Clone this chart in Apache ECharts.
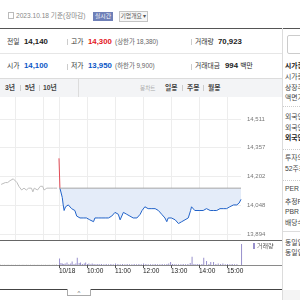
<!DOCTYPE html>
<html><head><meta charset="utf-8">
<script src="https://cdn.jsdelivr.net/npm/echarts@6/dist/echarts.min.js"></script>
<style>
html,body{margin:0;padding:0;width:300px;height:300px;overflow:hidden;background:#fff;font-family:"Liberation Sans","Noto Sans CJK KR",sans-serif;}
.t{position:absolute;white-space:nowrap;height:10px;line-height:10px;font-size:6.8px;color:#333;}
.b{font-weight:bold;font-size:7.8px;color:#222;}
.g{color:#666;font-size:6.4px;}
.ln{position:absolute;}
.r{position:absolute;left:285px;white-space:nowrap;height:10px;line-height:10px;font-size:6.8px;color:#444;}
#chart{position:absolute;left:0;top:0;width:300px;height:300px;}
</style></head>
<body>
<!-- header -->
<div class="ln" style="left:8px;top:12px;width:4px;height:5px;border:1px solid #bbb;"></div>
<div class="t" style="left:16px;top:10.5px;color:#888;font-size:6.6px;">2023.10.18 기준(장마감)</div>
<div class="t" style="left:93px;top:12px;width:20px;height:9px;line-height:9px;background:#6f80b8;color:#fff;font-size:5.8px;text-align:center;">실시간</div>
<div class="t" style="left:119px;top:11px;width:27px;height:9px;line-height:9px;border:1px solid #c4c4c4;background:#f6f6f6;color:#555;font-size:5.8px;text-align:center;">기업개요 ▾</div>
<div class="ln" style="left:0;top:28px;width:300px;height:1px;background:#555;"></div>
<!-- row 1 -->
<div class="t" style="left:7px;top:36.5px;">전일</div>
<div class="t b" style="left:24px;top:36.5px;">14,140</div>
<div class="ln" style="left:67px;top:39px;width:1px;height:6px;background:#ccc;"></div>
<div class="t" style="left:71px;top:36.5px;">고가</div>
<div class="t b" style="left:88px;top:36.5px;color:#e3151d;">14,300</div>
<div class="t g" style="left:115px;top:36.5px;">(상한가 18,380)</div>
<div class="ln" style="left:191px;top:39px;width:1px;height:6px;background:#ccc;"></div>
<div class="t" style="left:195px;top:36.5px;">거래량</div>
<div class="t b" style="left:218px;top:36.5px;">70,923</div>
<div class="ln" style="left:0;top:53px;width:282px;height:1px;background:#e6e6e6;"></div>
<!-- row 2 -->
<div class="t" style="left:7px;top:61px;">시가</div>
<div class="t b" style="left:24px;top:61px;color:#0c56c6;">14,100</div>
<div class="ln" style="left:67px;top:63.5px;width:1px;height:6px;background:#ccc;"></div>
<div class="t" style="left:71px;top:61px;">저가</div>
<div class="t b" style="left:88px;top:61px;color:#0c56c6;">13,950</div>
<div class="t g" style="left:115px;top:61px;">(하한가 9,900)</div>
<div class="ln" style="left:191px;top:63.5px;width:1px;height:6px;background:#ccc;"></div>
<div class="t" style="left:195px;top:61px;">거래대금</div>
<div class="t b" style="left:225px;top:61px;">994 <span style="font-weight:normal;font-size:6.8px;">백만</span></div>
<!-- tab bar -->
<div class="ln" style="left:0;top:78px;width:282px;height:19px;background:#f3f4f6;border-top:1px solid #dcdcdc;box-sizing:border-box;"></div>
<div class="ln" style="left:78px;top:78px;width:1px;height:19px;background:#dcdcdc;"></div>
<div class="t" style="left:5px;top:83px;font-weight:bold;color:#444;">3년</div>
<div class="ln" style="left:20px;top:85px;width:1px;height:6px;background:#ccc;"></div>
<div class="t" style="left:25px;top:83px;font-weight:bold;color:#444;">5년</div>
<div class="ln" style="left:39px;top:85px;width:1px;height:6px;background:#ccc;"></div>
<div class="t" style="left:43px;top:83px;font-weight:bold;color:#444;">10년</div>
<div class="t" style="left:140px;top:83px;color:#aaa;font-size:5.6px;">봉차트</div>
<div class="t" style="left:165px;top:83px;font-weight:bold;color:#444;">일봉</div>
<div class="ln" style="left:182px;top:85px;width:1px;height:6px;background:#ccc;"></div>
<div class="t" style="left:187px;top:83px;font-weight:bold;color:#444;">주봉</div>
<div class="ln" style="left:203px;top:85px;width:1px;height:6px;background:#ccc;"></div>
<div class="t" style="left:208px;top:83px;font-weight:bold;color:#444;">월봉</div>
<!-- chart frame lines -->
<div class="ln" style="left:0;top:240px;width:282px;height:1px;background:#666;"></div>
<div class="ln" style="left:0;top:265px;width:282px;height:1px;background:#8a8a8a;"></div>
<div class="ln" style="left:0;top:289px;width:282px;height:1px;background:#444;"></div>
<div class="t" style="left:67px;top:289px;width:22px;height:6px;line-height:8px;border:1px solid #aaa;border-top:none;background:#fff;color:#666;font-size:6px;text-align:center;">^</div>
<!-- right panel -->
<div class="ln" style="left:282px;top:28px;width:1px;height:272px;background:#dcdcdc;"></div>
<div class="ln" style="left:287px;top:35px;width:20px;height:17px;border:1px solid #ccc;border-radius:2px;"></div>
<div class="r" style="top:60.7px;font-weight:bold;color:#222;">시가총액</div>
<div class="r" style="top:71.7px;">시가총액순위</div>
<div class="r" style="top:83px;">상장주식수</div>
<div class="r" style="top:93px;">액면가</div>
<div class="ln" style="left:283px;top:106px;width:17px;border-top:1px dotted #ccc;"></div>
<div class="r" style="top:111.7px;">외국인한도주식수</div>
<div class="r" style="top:122.7px;">외국인보유주식수</div>
<div class="r" style="top:132.7px;font-weight:bold;color:#222;">외국인소진율</div>
<div class="ln" style="left:283px;top:149px;width:17px;border-top:1px dotted #ccc;"></div>
<div class="r" style="top:152.7px;">투자의견</div>
<div class="r" style="top:164px;">52주최고</div>
<div class="ln" style="left:283px;top:180px;width:17px;border-top:1px dotted #ccc;"></div>
<div class="r" style="top:184.3px;">PER</div>
<div class="r" style="top:196.7px;">추정PER</div>
<div class="r" style="top:207.3px;">PBR</div>
<div class="r" style="top:218.3px;">배당수익률</div>
<div class="ln" style="left:283px;top:231px;width:17px;border-top:1px solid #ddd;"></div>
<div class="r" style="top:237.5px;">동일업종 PER</div>
<div class="r" style="top:248px;">동일업종 등락률</div>
<div class="ln" style="left:283px;top:290px;width:17px;height:10px;background:#f4f4f4;"></div>

<div id="chart"></div>
<script>
// ---- data ----
const prevClose = 14140;
const priceTicks = [13894, 14048, 14202, 14357, 14511];
const gridTimes = [-94, -34, 0, 60, 120, 180, 240, 300, 360];
const timeTicks = [0, 60, 120, 180, 240, 300, 360];
const timeLabels = ['10/18', '10:00', '11:00', '12:00', '13:00', '14:00', '15:00'];
// minutes relative to 09:00 of 10/18 (previous session shown at negative minutes)
const prevDayPrice = [[-124,14160],[-120,14160],[-115,14170],[-110,14170],[-105,14180],[-101,14180],[-98,14190],[-94,14180],[-90,14170],[-86,14150],[-83,14140],[-80,14130],[-78,14120],[-75,14140],[-73,14150],[-70,14130],[-68,14130],[-65,14140],[-62,14150],[-59,14140],[-56,14120],[-53,14140],[-51,14150],[-49,14140],[-46,14130],[-43,14140],[-40,14150],[-37,14140],[-35,14150],[-32,14130],[-29,14140],[-26,14140],[-23,14150],[-19,14140],[-16,14150],[-12,14140],[-8,14140],[-4,14140]];
const openSpike = [[0,14300],[2,14140]];
const todayPrice = [[2,14140],[6,14130],[7,14090],[9,14050],[11,14020],[14,14040],[16,14030],[20,14050],[24,14040],[27,14030],[31,14040],[34,14020],[38,13990],[41,13980],[45,13980],[49,13970],[52,13980],[56,13970],[59,13980],[63,13980],[66,13970],[70,13970],[74,13960],[77,13980],[80,13980],[84,13980],[88,13990],[92,13980],[96,13970],[99,13980],[102,13990],[106,13980],[109,13980],[113,13990],[116,14000],[120,14010],[124,14020],[127,14000],[131,13970],[134,13980],[138,14010],[141,14010],[145,14000],[149,14000],[152,13990],[156,13990],[159,13980],[163,13990],[167,13980],[170,13990],[174,14000],[178,14020],[181,14030],[184,14040],[188,14040],[191,14030],[195,14040],[199,14030],[202,14030],[206,14030],[209,14020],[213,14020],[216,14020],[220,14000],[224,13990],[227,13980],[231,13960],[234,13980],[238,13990],[241,13980],[245,13970],[249,13970],[252,13960],[256,13950],[259,13950],[263,13960],[266,13950],[270,13970],[273,13970],[277,13980],[281,13990],[282,14020],[284,14040],[288,14030],[291,14020],[295,14020],[302,14020],[306,14020],[309,14020],[316,14030],[320,14020],[324,14020],[331,14020],[338,14020],[342,14030],[345,14030],[352,14030],[356,14030],[359,14030],[363,14040],[366,14040],[370,14050],[374,14050],[378,14050],[381,14050],[386,14060],[388,14060],[390,14080]];
const baseline = [[0,14140],[390,14140]];
const prevDayVolume = [[-124,300],[-120,200],[-116,300],[-112,200],[-108,300],[-104,200],[-100,300],[-96,200],[-92,300],[-88,200],[-84,300],[-80,200],[-76,300],[-72,200],[-68,300],[-64,200],[-60,300],[-56,200],[-52,300],[-48,200],[-44,300],[-40,200],[-36,300],[-32,200],[-28,300],[-24,200],[-20,300],[-16,200],[-12,300],[-8,300],[-4,400]];
const todayVolume = [[0,3900],[3,1200],[6,900],[9,600],[12,900],[16,1500],[20,600],[24,900],[27,2100],[31,600],[35,900],[38,4400],[42,1200],[45,1500],[49,600],[53,900],[56,1500],[60,600],[63,900],[67,400],[70,900],[74,600],[78,400],[82,600],[86,400],[90,600],[95,400],[100,600],[105,400],[110,600],[115,400],[120,900],[125,600],[130,400],[135,600],[140,400],[145,600],[150,400],[155,400],[160,600],[165,400],[170,600],[175,400],[180,900],[185,600],[190,400],[195,400],[200,400],[205,600],[210,400],[215,400],[220,600],[225,400],[230,600],[234,900],[238,1800],[242,600],[246,400],[250,400],[255,400],[260,400],[265,600],[270,400],[275,600],[280,1200],[284,5000],[288,600],[292,400],[296,600],[300,400],[305,600],[309,4400],[315,2400],[320,600],[324,1800],[330,1800],[335,600],[340,900],[345,600],[350,900],[355,400],[360,600],[365,400],[370,600],[375,400],[380,400],[390,12600]];

const X_MIN = -126.4, X_MAX = 390;
const chart = echarts.init(document.getElementById('chart'), null, {renderer:'canvas'});
chart.setOption({
  animation:false,
  grid:[{left:0, top:97, width:241, height:143},{left:0, top:240, width:241, height:25}],
  legend:{data:['거래량'], left:253, top:243, padding:0, icon:'rect', itemWidth:2, itemHeight:6, itemGap:2,
    textStyle:{fontSize:6, color:'#555', fontFamily:'Noto Sans CJK KR', padding:[0,0,0,-3]}},
  xAxis:[
    {gridIndex:0, type:'value', min:X_MIN, max:X_MAX, axisLine:{show:false}, axisLabel:{show:false},
     axisTick:{show:false, customValues:gridTimes}, splitLine:{show:true, lineStyle:{color:'#ededed', width:1}}},
    {gridIndex:1, type:'value', min:X_MIN, max:X_MAX, axisLine:{show:false},
     axisTick:{show:true, customValues:timeTicks, length:3, inside:false, lineStyle:{color:'#555'}},
     axisLabel:{customValues:timeTicks, align:'left', margin:3, fontSize:6.5, fontFamily:'Liberation Sans',
       formatter:v=>timeLabels[timeTicks.indexOf(v)], color:v=>v===0?'#888':'#222'},
     splitLine:{show:false}}
  ],
  yAxis:[
    {gridIndex:0, type:'value', position:'right', min:13861.8, max:14629, axisLine:{show:false},
     axisTick:{show:false, customValues:priceTicks},
     axisLabel:{customValues:priceTicks, margin:6, fontSize:6, color:'#777', fontFamily:'Liberation Sans',
       formatter:v=>Math.round(v).toLocaleString('en-US')},
     splitLine:{show:true, lineStyle:{color:'#ededed', width:1}}},
    {gridIndex:1, type:'value', min:0, max:15000, show:false}
  ],
  series:[
    {name:'전일', type:'line', xAxisIndex:0, yAxisIndex:0, data:prevDayPrice, symbol:'none',
     lineStyle:{color:'#bdbdbd', width:1}, itemStyle:{color:'#bdbdbd'}, z:2},
    {name:'현재가', type:'line', xAxisIndex:0, yAxisIndex:0, data:todayPrice, symbol:'none',
     lineStyle:{width:1, color:'#2263c9'}, itemStyle:{color:'#2263c9'},
     areaStyle:{origin:prevClose, color:'#e4ecf9', opacity:1}, z:2},
    {name:'시초가', type:'line', xAxisIndex:0, yAxisIndex:0, data:openSpike, symbol:'none',
     lineStyle:{width:1, color:'#e24a55'}, itemStyle:{color:'#e24a55'}, z:2},
    {name:'기준선', type:'line', xAxisIndex:0, yAxisIndex:0, data:baseline, symbol:'none', silent:true,
     lineStyle:{color:'#a5a5a5', width:1}, itemStyle:{color:'#a5a5a5'}, z:3},
    {name:'전일거래량', type:'bar', xAxisIndex:1, yAxisIndex:1, data:prevDayVolume, barWidth:1,
     itemStyle:{color:'#cfcfcf'}},
    {name:'거래량', type:'bar', xAxisIndex:1, yAxisIndex:1, data:todayVolume, barWidth:1,
     itemStyle:{color:'#9890cc'}}
  ]
});
</script>
</body></html>
